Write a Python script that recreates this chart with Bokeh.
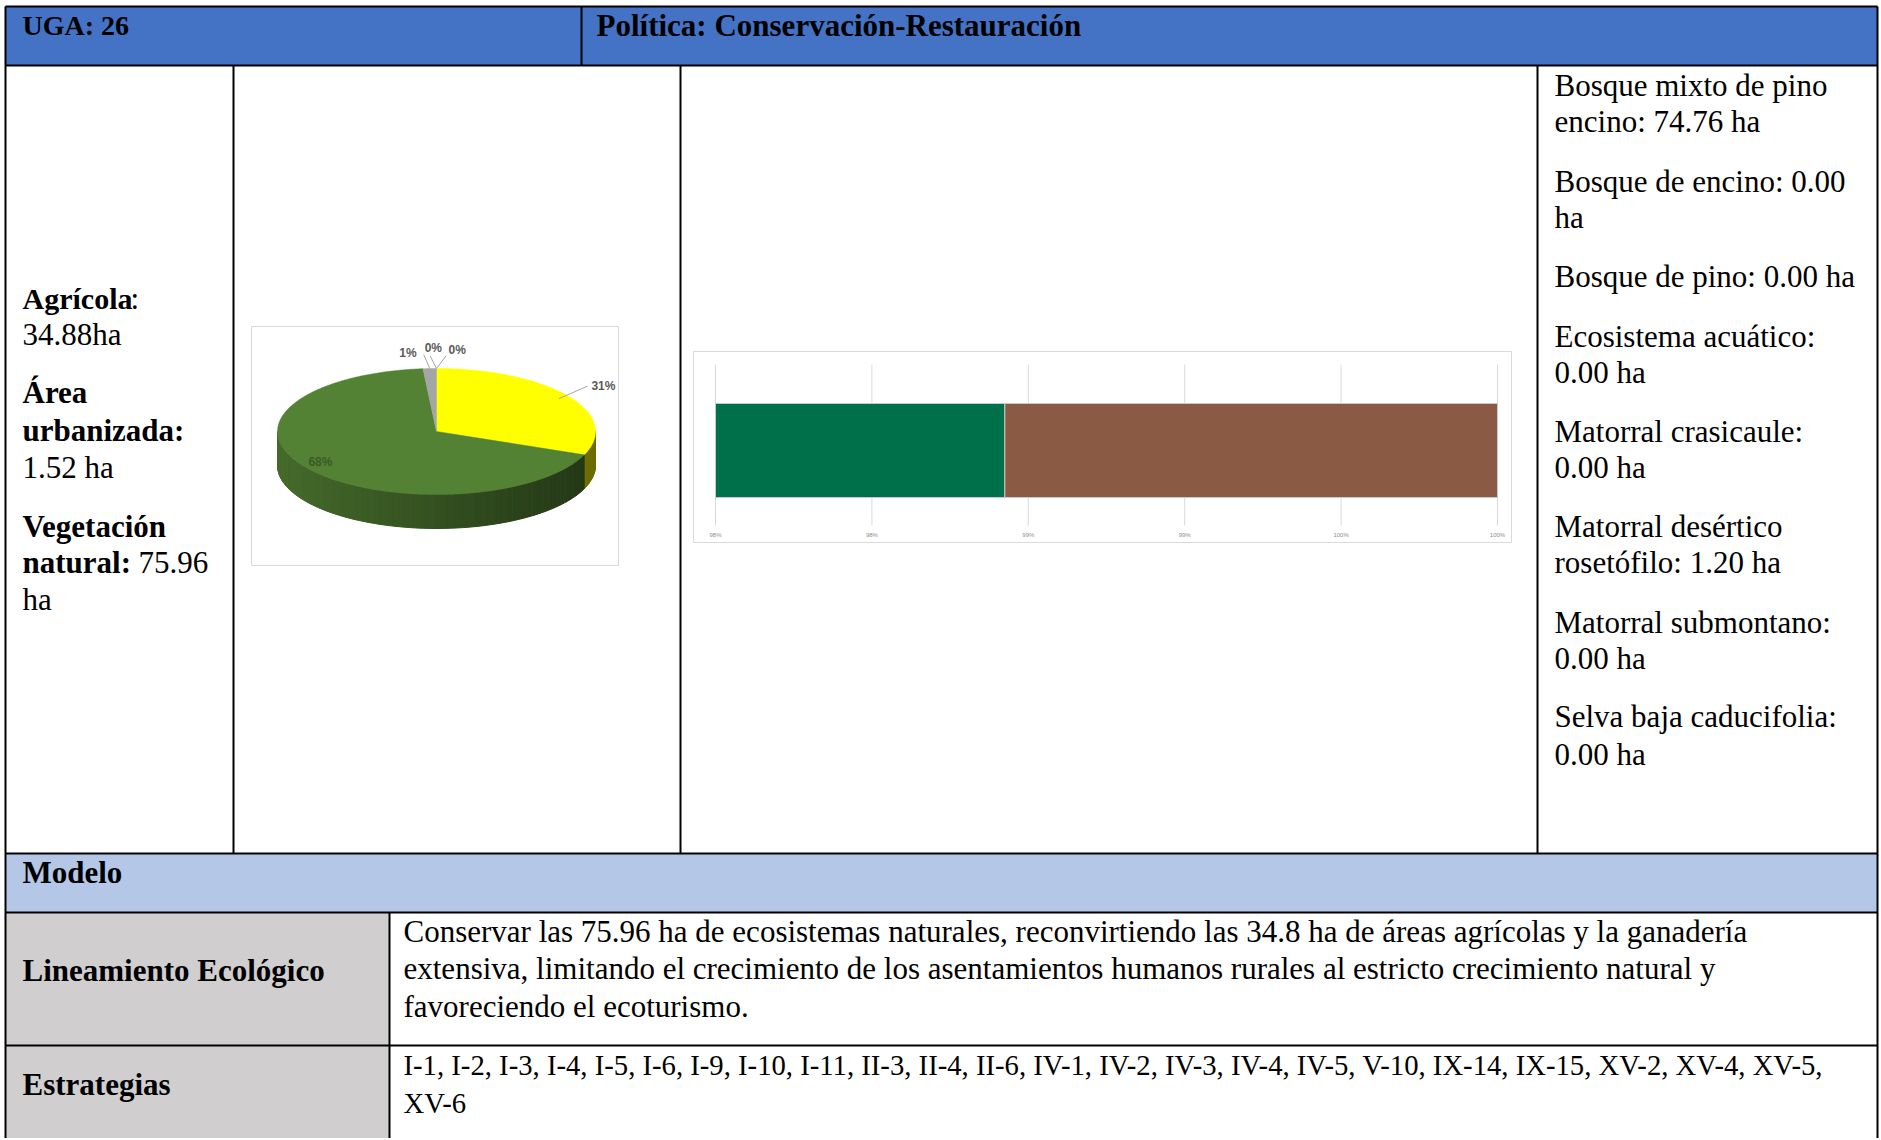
import textwrap
import numpy as np
from bokeh.plotting import figure
from bokeh.models import Range1d
from bokeh.core.properties import value
from bokeh.embed import file_html
from bokeh.resources import INLINE

# ---------------- data ----------------
uga_id = "26"
politica = "Conservación-Restauración"

uso_names = ["Agrícola", "Área urbanizada", "Vegetación natural"]
uso_ha = [34.88, 1.52, 75.96]

# pie slices in drawing order (clockwise from 12 o'clock)
pie_names = ["Agrícola", "Vegetación natural", "Área urbanizada", "Otro 1", "Otro 2"]
pie_ha = [34.88, 75.96, 1.52, 0.0, 0.0]

veg_names = ["Bosque  mixto de  pino encino", "Bosque de encino", "Bosque de pino",
             "Ecosistema acuático", "Matorral crasicaule", "Matorral desértico rosetófilo",
             "Matorral submontano", "Selva baja caducifolia"]
veg_ha = [74.76, 0.00, 0.00, 0.00, 0.00, 1.20, 0.00, 0.00]

bar_series = ["Bosque", "Matorral"]
bar_share = [0.9874, 0.0126]
bar_axis_min = 0.98
bar_ticks = [0.98, 0.984, 0.988, 0.992, 0.996, 1.0]

modelo_title = "Modelo"
lineamiento_title = "Lineamiento Ecológico"
lineamiento_lines = [
    "Conservar las 75.96 ha de ecosistemas naturales, reconvirtiendo las 34.8 ha de áreas agrícolas y la ganadería",
    "extensiva, limitando el crecimiento de los asentamientos humanos rurales al estricto crecimiento natural y",
    "favoreciendo el ecoturismo.",
]
estrategias_title = "Estrategias"
estrategias_lines = [
    "I-1, I-2, I-3, I-4, I-5, I-6, I-9, I-10, I-11, II-3, II-4, II-6, IV-1, IV-2, IV-3, IV-4, IV-5, V-10, IX-14, IX-15, XV-2, XV-4, XV-5,",
    "XV-6",
]

# ---------------- styles / layout (page pixels) ----------------
SERIF = value("Liberation Serif")
SANS = value("Liberation Sans")
W, H = 1880, 1138
X0, Y0 = 0, 0
pie_colors = ["#FFFF00", "#548235", "#A5A5A5", "#A5A5A5", "#A5A5A5"]
bar_colors = ["#00704A", "#8B5A44"]

PCX, PCY, PRX, PRY, PDEPTH = 436, 431, 159, 63, 34   # pie ellipse in px
BX0, BX1 = 715, 1497                                 # bar plot span in px

p = figure(width=W, height=H, x_range=Range1d(X0, X0 + W), y_range=Range1d(Y0 + H, Y0),
           output_backend="svg", toolbar_location=None, min_border=0,
           x_axis_location=None, y_axis_location=None)
p.grid.visible = False
p.outline_line_color = None
p.background_fill_color = "white"
p.border_fill_color = "white"

p.extra_x_ranges = {
    "px": Range1d((X0 - PCX) / PRX, (X0 + W - PCX) / PRX),
    "bx": Range1d(bar_axis_min + (X0 - BX0) / (BX1 - BX0) * (bar_ticks[-1] - bar_axis_min),
                  bar_axis_min + (X0 + W - BX0) / (BX1 - BX0) * (bar_ticks[-1] - bar_axis_min)),
}
p.extra_y_ranges = {"py": Range1d((PCY - (Y0 + H)) / PRY, (PCY - Y0) / PRY)}

# ---------------- table fills ----------------
L, R, T = 5, 1877, 6
HB, MB, MOB, LB, BOT = 65, 853, 912, 1045, 1140
p.quad(left=[L, L, L], right=[R, R, 389], top=[T, MB, MOB], bottom=[HB, MOB, BOT],
       fill_color=["#4472C4", "#B4C7E7", "#D0CECE"], line_color=None)

# ---------------- chart boxes ----------------
p.quad(left=[251, 693], right=[618, 1511], top=[326, 351], bottom=[565, 542],
       fill_color="white", line_color="#D9D9D9", line_width=1)

# ---------------- pie (3D) ----------------
vals = np.array(pie_ha, dtype=float)
frac = vals / vals.sum()
edges = np.concatenate([[0.0], np.cumsum(frac)]) * 2 * np.pi
d = PDEPTH / PRY

def shade(hexcol, f):
    r, g, b = int(hexcol[1:3], 16), int(hexcol[3:5], 16), int(hexcol[5:7], 16)
    return "#%02x%02x%02x" % (int(r * f), int(g * f), int(b * f))

sx, sy, sc = [], [], []
for i in range(len(vals)):
    a0, a1 = max(edges[i], np.pi / 2), min(edges[i + 1], 3 * np.pi / 2)
    if a1 <= a0:
        continue
    n = max(2, int((a1 - a0) / 0.03))
    ts = np.linspace(a0, a1, n + 1)
    for t0, t1 in zip(ts[:-1], ts[1:]):
        xm = np.sin((t0 + t1) / 2)
        f = 0.82 - 0.40 * (xm + 1) / 2
        sx.append([np.sin(t0), np.sin(t1), np.sin(t1), np.sin(t0)])
        sy.append([np.cos(t0), np.cos(t1), np.cos(t1) - d, np.cos(t0) - d])
        sc.append(shade(pie_colors[i], f))
p.patches(xs=sx, ys=sy, fill_color=sc, line_color=sc, line_width=1,
          x_range_name="px", y_range_name="py")

tx, ty, tc = [], [], []
for i in range(len(vals)):
    if edges[i + 1] - edges[i] <= 0:
        continue
    ts = np.linspace(edges[i], edges[i + 1], max(3, int((edges[i + 1] - edges[i]) / 0.01)))
    tx.append(np.concatenate([[0.0], np.sin(ts)]))
    ty.append(np.concatenate([[0.0], np.cos(ts)]))
    tc.append(pie_colors[i])
p.patches(xs=tx, ys=ty, fill_color=tc, line_color=tc, line_width=0.5,
          x_range_name="px", y_range_name="py")

# labels (positions in unit-ellipse coordinates are style)
label_pos = [(1.05, 0.72), (-0.73, -0.48), (-0.18, 1.25), (-0.02, 1.32), (0.13, 1.30)]
label_col = ["#595959", "#3b5a27", "#595959", "#595959", "#595959"]
pct = ["%d%%" % round(f * 100) for f in frac]
p.text(x=[q[0] for q in label_pos], y=[q[1] for q in label_pos], text=pct,
       text_color=label_col, text_font=SANS, text_font_style="bold",
       text_font_size="12px", text_align="center", text_baseline="middle",
       x_range_name="px", y_range_name="py")
mids = (edges[:-1] + edges[1:]) / 2
lead_r = [0.93, None, 1.0, 1.0, 1.0]
ends = [(0.95, 0.72), None, (-0.08, 1.22), (-0.04, 1.2), (0.06, 1.2)]
lx0, ly0, lx1, ly1 = [], [], [], []
for i in range(len(vals)):
    if lead_r[i] is None:
        continue
    lx0.append(lead_r[i] * np.sin(mids[i])); ly0.append(lead_r[i] * np.cos(mids[i]))
    lx1.append(ends[i][0]); ly1.append(ends[i][1])
p.segment(x0=lx0, y0=ly0, x1=lx1, y1=ly1, line_color="#A6A6A6", line_width=1,
          x_range_name="px", y_range_name="py")

# ---------------- stacked bar ----------------
p.segment(x0=bar_ticks, y0=364, x1=bar_ticks, y1=525, line_color="#D9D9D9", line_width=1,
          x_range_name="bx")
cum = np.cumsum(bar_share)
starts = np.concatenate([[0.0], cum[:-1]])
p.hbar(y=450, height=94, left=np.maximum(starts, bar_axis_min), right=cum,
       fill_color=bar_colors, line_color="#C8C8C8", line_width=1, x_range_name="bx")
p.text(x=bar_ticks, y=534, text=["%d%%" % round(t * 100) for t in bar_ticks],
       text_color="#8C8C8C", text_font=SANS, text_font_size="6px",
       text_align="center", text_baseline="middle", x_range_name="bx")

# ---------------- table lines ----------------
hy = [T, HB, MB, MOB, LB]
p.segment(x0=[L] * 5, y0=hy, x1=[R] * 5, y1=hy, line_color="black", line_width=2)
vx = [L, R, 581, 233, 680, 1537, 389]
vy0 = [T, T, T, HB, HB, HB, MOB]
vy1 = [BOT, BOT, HB, MB, MB, MB, BOT]
p.segment(x0=vx, y0=vy0, x1=vx, y1=vy1, line_color="black", line_width=2)

# ---------------- texts ----------------
def txt(x, y, s, size="31px", bold=False, color="black"):
    p.text(x=x, y=y, text=s, text_font=SERIF, text_font_size=size,
           text_font_style="bold" if bold else "normal", text_color=color,
           text_align="left", text_baseline="middle")

txt([22], [25], ["UGA: " + uga_id], size="28px", bold=True)
txt([596], [25], ["Política: " + politica], size="31px", bold=True)

# left column
txt([22], [298], [uso_names[0]], size="30px", bold=True)
txt([130], [298], [":"])
txt([22], [334], ["%.2fha" % uso_ha[0]])
w1, w2 = uso_names[1].split(" ")
txt([22, 22], [392, 430], [w1, w2 + ":"], bold=True)
txt([22], [467], ["%.2f ha" % uso_ha[1]])
v1, v2 = uso_names[2].split(" ")
txt([22, 22], [526, 562], [v1, v2 + ":"], bold=True)
txt([138, 22], [562, 599], ["%.2f" % uso_ha[2], "ha"])

# right column
right_lines = []
for name, ha in zip(veg_names, veg_ha):
    right_lines.append(textwrap.wrap("%s: %.2f ha" % (name, ha), width=23))
ys_right = [[85, 121], [181, 217], [276], [336, 372], [431, 467], [526, 562], [622, 658], [716, 754]]
rx, ry, rt = [], [], []
for lines, ys in zip(right_lines, ys_right):
    for s, yy in zip(lines, ys):
        rx.append(1554); ry.append(yy); rt.append(s)
txt(rx, ry, rt)

# bottom rows
txt([22, 22, 22], [872, 970, 1084], [modelo_title, lineamiento_title, estrategias_title], bold=True)
txt([403] * 3, [931, 968, 1006], lineamiento_lines, size="31px")
txt([403] * 2, [1064, 1102], estrategias_lines, size="28.7px")

open("out.html", "w").write(file_html(p, INLINE))
